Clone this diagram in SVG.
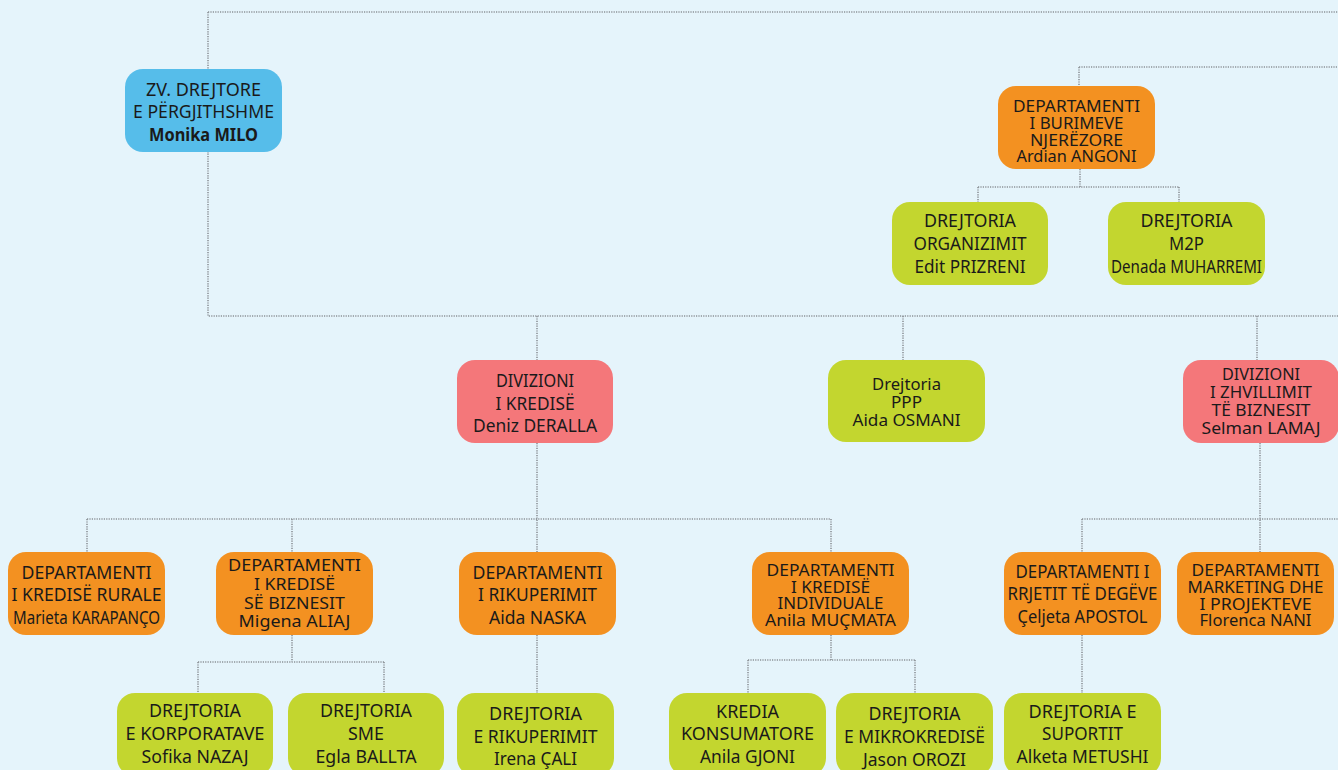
<svg xmlns="http://www.w3.org/2000/svg" width="1338" height="770" viewBox="0 0 1338 770">
<style>
.c{fill:none;stroke:#8c9298;stroke-width:1.6;stroke-dasharray:1.2 1.2}
.n{stroke:none}
.b{fill:#56bdea}.o{fill:#f39121}.g{fill:#c3d62f}.r{fill:#f4777a}
text{font-family:"Noto Sans","Open Sans","Liberation Sans",sans-serif;font-size:18px;fill:#1a1a1a;text-anchor:middle}
.t{font-size:16px}
.k{font-weight:bold}
</style>
<rect width="1338" height="770" fill="#e5f4fb"/>
<g id="connectors">
<path class="c" d="M208 12H1338M208 12V316H1338"/>
<path class="c" d="M1079 67H1338M1079 67V86"/>
<path class="c" d="M1080 169V187M978 187H1179M978 187V202M1179 187V202"/>
<path class="c" d="M537 316V360M903 316V360M1257 316V360"/>
<path class="c" d="M537 443V552M87 519H831M87 519V552M292 519V552M831 519V552"/>
<path class="c" d="M292 635V662M198 662H384M198 662V693M384 662V693"/>
<path class="c" d="M537 635V693"/>
<path class="c" d="M831 635V660M748 660H915M748 660V693M915 660V693"/>
<path class="c" d="M1260 443V552M1082 519H1338M1082 519V552"/>
<path class="c" d="M1082 635V693"/>
</g>
<g id="zv"><rect class="n b" x="125" y="69" width="157" height="83" rx="18"/>
<text x="203.5" y="96" textLength="115" lengthAdjust="spacingAndGlyphs">ZV. DREJTORE</text><text x="203.5" y="118" textLength="141" lengthAdjust="spacingAndGlyphs">E PËRGJITHSHME</text><text class="k" x="203.5" y="141" textLength="109" lengthAdjust="spacingAndGlyphs">Monika MILO</text></g>
<g id="burimeve"><rect class="n o" x="998" y="86" width="157" height="83" rx="18"/>
<text class="t" x="1076.5" y="112" textLength="127" lengthAdjust="spacingAndGlyphs">DEPARTAMENTI</text><text class="t" x="1076.5" y="129" textLength="94" lengthAdjust="spacingAndGlyphs">I BURIMEVE</text><text class="t" x="1076.5" y="145.7" textLength="93" lengthAdjust="spacingAndGlyphs">NJERËZORE</text><text class="t" x="1076.5" y="162.3" textLength="120" lengthAdjust="spacingAndGlyphs">Ardian ANGONI</text></g>
<g id="organizimit"><rect class="n g" x="892" y="202" width="156" height="83" rx="18"/>
<text x="970" y="227" textLength="92" lengthAdjust="spacingAndGlyphs">DREJTORIA</text><text x="970" y="249.5" textLength="113" lengthAdjust="spacingAndGlyphs">ORGANIZIMIT</text><text x="970" y="272.5" textLength="111" lengthAdjust="spacingAndGlyphs">Edit PRIZRENI</text></g>
<g id="m2p"><rect class="n g" x="1108" y="202" width="157" height="83" rx="18"/>
<text x="1186.5" y="227" textLength="92" lengthAdjust="spacingAndGlyphs">DREJTORIA</text><text x="1186.5" y="249.5" textLength="35" lengthAdjust="spacingAndGlyphs">M2P</text><text x="1186.5" y="272.5" textLength="151" lengthAdjust="spacingAndGlyphs">Denada MUHARREMI</text></g>
<g id="div-kredise"><rect class="n r" x="457" y="360" width="156" height="83" rx="18"/>
<text x="535" y="387" textLength="78" lengthAdjust="spacingAndGlyphs">DIVIZIONI</text><text x="535" y="409.7" textLength="79" lengthAdjust="spacingAndGlyphs">I KREDISË</text><text x="535" y="432.3" textLength="124" lengthAdjust="spacingAndGlyphs">Deniz DERALLA</text></g>
<g id="ppp"><rect class="n g" x="828" y="360" width="157" height="82" rx="18"/>
<text class="t" x="906.5" y="390" textLength="69" lengthAdjust="spacingAndGlyphs">Drejtoria</text><text class="t" x="906.5" y="408" textLength="31" lengthAdjust="spacingAndGlyphs">PPP</text><text class="t" x="906.5" y="426" textLength="108" lengthAdjust="spacingAndGlyphs">Aida OSMANI</text></g>
<g id="div-zhvillimit"><rect class="n r" x="1183" y="360" width="156" height="83" rx="18"/>
<text class="t" x="1261" y="380.3" textLength="78" lengthAdjust="spacingAndGlyphs">DIVIZIONI</text><text class="t" x="1261" y="397.7" textLength="102" lengthAdjust="spacingAndGlyphs">I ZHVILLIMIT</text><text class="t" x="1261" y="416" textLength="99" lengthAdjust="spacingAndGlyphs">TË BIZNESIT</text><text class="t" x="1261" y="434.3" textLength="119" lengthAdjust="spacingAndGlyphs">Selman LAMAJ</text></g>
<g id="rurale"><rect class="n o" x="8" y="552" width="157" height="83" rx="18"/>
<text x="86.5" y="578.7" textLength="130" lengthAdjust="spacingAndGlyphs">DEPARTAMENTI</text><text x="86.5" y="601.3" textLength="150" lengthAdjust="spacingAndGlyphs">I KREDISË RURALE</text><text x="86.5" y="624.3" textLength="147" lengthAdjust="spacingAndGlyphs">Marieta KARAPANÇO</text></g>
<g id="biznesit"><rect class="n o" x="216" y="552" width="157" height="83" rx="18"/>
<text class="t" x="294.5" y="570.7" textLength="133" lengthAdjust="spacingAndGlyphs">DEPARTAMENTI</text><text class="t" x="294.5" y="589.5" textLength="81" lengthAdjust="spacingAndGlyphs">I KREDISË</text><text class="t" x="294.5" y="608.7" textLength="101" lengthAdjust="spacingAndGlyphs">SË BIZNESIT</text><text class="t" x="294.5" y="627.3" textLength="112" lengthAdjust="spacingAndGlyphs">Migena ALIAJ</text></g>
<g id="rikuperimit"><rect class="n o" x="459" y="552" width="157" height="83" rx="18"/>
<text x="537.5" y="578.7" textLength="130" lengthAdjust="spacingAndGlyphs">DEPARTAMENTI</text><text x="537.5" y="601.3" textLength="119" lengthAdjust="spacingAndGlyphs">I RIKUPERIMIT</text><text x="537.5" y="624.3" textLength="97" lengthAdjust="spacingAndGlyphs">Aida NASKA</text></g>
<g id="individuale"><rect class="n o" x="752" y="552" width="157" height="83" rx="18"/>
<text class="t" x="830.5" y="575.7" textLength="128" lengthAdjust="spacingAndGlyphs">DEPARTAMENTI</text><text class="t" x="830.5" y="593" textLength="79" lengthAdjust="spacingAndGlyphs">I KREDISË</text><text class="t" x="830.5" y="609" textLength="106" lengthAdjust="spacingAndGlyphs">INDIVIDUALE</text><text class="t" x="830.5" y="625.7" textLength="131" lengthAdjust="spacingAndGlyphs">Anila MUÇMATA</text></g>
<g id="rrjetit"><rect class="n o" x="1004" y="552" width="157" height="83" rx="18"/>
<text x="1082.5" y="577.7" textLength="134" lengthAdjust="spacingAndGlyphs">DEPARTAMENTI I</text><text x="1082.5" y="600" textLength="150" lengthAdjust="spacingAndGlyphs">RRJETIT TË DEGËVE</text><text x="1082.5" y="622.7" textLength="130" lengthAdjust="spacingAndGlyphs">Çeljeta APOSTOL</text></g>
<g id="marketing"><rect class="n o" x="1177" y="552" width="157" height="83" rx="18"/>
<text class="t" x="1255.5" y="575.7" textLength="128" lengthAdjust="spacingAndGlyphs">DEPARTAMENTI</text><text class="t" x="1255.5" y="592.7" textLength="136" lengthAdjust="spacingAndGlyphs">MARKETING DHE</text><text class="t" x="1255.5" y="609.7" textLength="112" lengthAdjust="spacingAndGlyphs">I PROJEKTEVE</text><text class="t" x="1255.5" y="625.7" textLength="112" lengthAdjust="spacingAndGlyphs">Florenca NANI</text></g>
<g id="korporatave"><rect class="n g" x="117" y="693" width="156" height="83" rx="18"/>
<text x="195" y="716.7" textLength="92" lengthAdjust="spacingAndGlyphs">DREJTORIA</text><text x="195" y="740" textLength="139" lengthAdjust="spacingAndGlyphs">E KORPORATAVE</text><text x="195" y="762.7" textLength="107" lengthAdjust="spacingAndGlyphs">Sofika NAZAJ</text></g>
<g id="sme"><rect class="n g" x="288" y="693" width="156" height="83" rx="18"/>
<text x="366" y="716.7" textLength="92" lengthAdjust="spacingAndGlyphs">DREJTORIA</text><text x="366" y="740" textLength="36" lengthAdjust="spacingAndGlyphs">SME</text><text x="366" y="762.7" textLength="101" lengthAdjust="spacingAndGlyphs">Egla BALLTA</text></g>
<g id="e-rikuperimit"><rect class="n g" x="457" y="693" width="157" height="83" rx="18"/>
<text x="535.5" y="720" textLength="93" lengthAdjust="spacingAndGlyphs">DREJTORIA</text><text x="535.5" y="742.7" textLength="124" lengthAdjust="spacingAndGlyphs">E RIKUPERIMIT</text><text x="535.5" y="765" textLength="83" lengthAdjust="spacingAndGlyphs">Irena ÇALI</text></g>
<g id="konsumatore"><rect class="n g" x="669" y="693" width="157" height="83" rx="18"/>
<text x="747.5" y="717.7" textLength="63" lengthAdjust="spacingAndGlyphs">KREDIA</text><text x="747.5" y="740.3" textLength="133" lengthAdjust="spacingAndGlyphs">KONSUMATORE</text><text x="747.5" y="763.3" textLength="95" lengthAdjust="spacingAndGlyphs">Anila GJONI</text></g>
<g id="mikrokredise"><rect class="n g" x="836" y="693" width="157" height="83" rx="18"/>
<text x="914.5" y="720" textLength="92" lengthAdjust="spacingAndGlyphs">DREJTORIA</text><text x="914.5" y="742.7" textLength="141" lengthAdjust="spacingAndGlyphs">E MIKROKREDISË</text><text x="914.5" y="766" textLength="103" lengthAdjust="spacingAndGlyphs">Jason OROZI</text></g>
<g id="suportit"><rect class="n g" x="1004" y="693" width="157" height="83" rx="18"/>
<text x="1082.5" y="717.7" textLength="108" lengthAdjust="spacingAndGlyphs">DREJTORIA E</text><text x="1082.5" y="740.3" textLength="81" lengthAdjust="spacingAndGlyphs">SUPORTIT</text><text x="1082.5" y="763.3" textLength="132" lengthAdjust="spacingAndGlyphs">Alketa METUSHI</text></g>
</svg>
